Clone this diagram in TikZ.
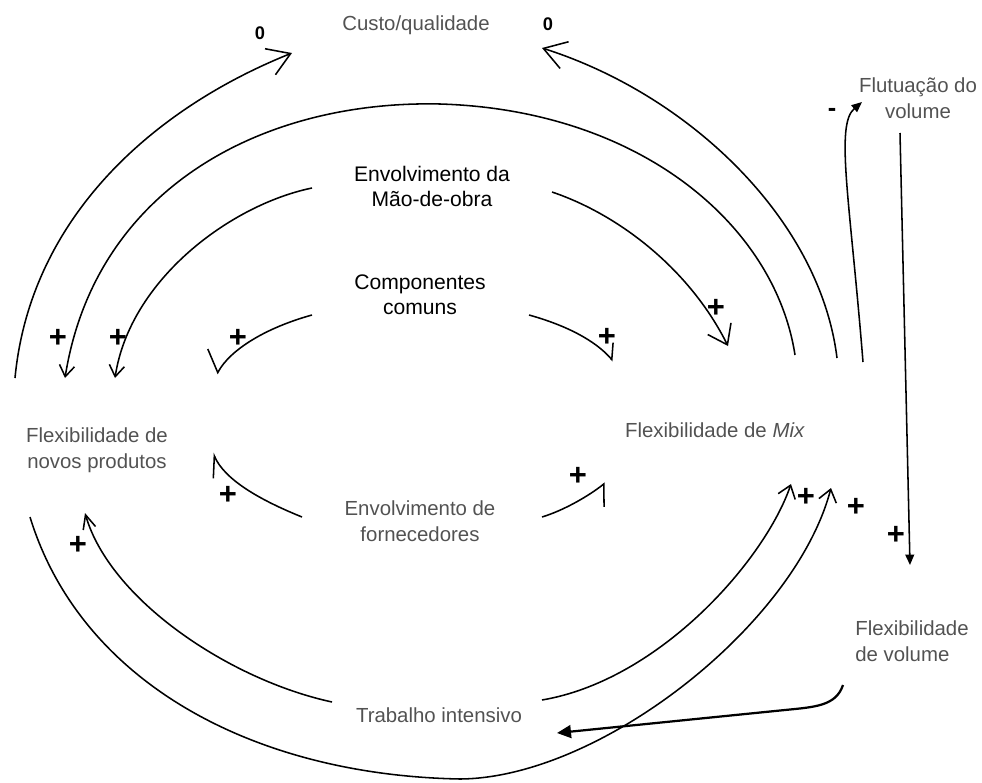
\documentclass[tikz,border=0pt]{standalone}
\usepackage{fontspec}
\setmainfont{Liberation Sans}
\usepackage{xcolor}
\usetikzlibrary{arrows.meta}
\definecolor{fmgray}{RGB}{82,82,82}
\tikzset{
  factor/.style={align=center, font=\fontsize{14.5}{18.4}\selectfont, text=fmgray, inner sep=1pt},
  keyfactor/.style={align=center, font=\fontsize{15}{17.8}\selectfont, text=black, inner sep=1pt},
  sign/.style={font=\fontsize{22}{22}\selectfont\bfseries, inner sep=0pt},
  zero/.style={font=\fontsize{13}{13}\selectfont\bfseries, inner sep=0pt},
  link/.style={line width=1.1pt},
  bigbarb/.style={link, -{Straight Barb[length=5.5mm, width=7mm]}},
  midbarb/.style={link, -{Straight Barb[length=4.5mm, width=6.5mm]}},
  smallbarb/.style={link, -{Straight Barb[length=3mm, width=4.5mm]}},
  halfleft/.style={link, -{Straight Barb[left, length=#1]}},
  halfright/.style={link, -{Straight Barb[right, length=#1]}},
  solidarrow/.style={link, -{Triangle[length=2.6mm, width=2.2mm]}},
}

\begin{document}
\begin{tikzpicture}[x=0.025cm, y=-0.025cm]
  \useasboundingbox (0,0) rectangle (982,783);
  % factors
  \node[factor] (cq) at (416,25) {Custo/qualidade};
  \node[keyfactor] (mo) at (432,186) {Envolvimento da\\Mão-de-obra};
  \node[keyfactor] (cc) at (420,295) {Componentes\\comuns};
  \node[factor] (np) at (97,450) {Flexibilidade de\\novos produtos};
  \node[factor] (ef) at (420,521) {Envolvimento de\\fornecedores};
  \node[factor] (mx) at (715,430) {Flexibilidade de \textit{Mix}};
  \node[factor] (fl) at (918,98) {Flutuação do\\volume};
  \node[factor, align=left] (fv) at (912,641) {Flexibilidade\\de volume};
  \node[factor] (ti) at (439,715) {Trabalho intensivo};

  % link ends
  \foreach \name/\x/\y in {np1/15/378, cq1/292/53, mx1/795/355, np2/65/378,
                           mo1/312/188, np3/115/378, cc1/312/315, np4/217/374,
                           mo2/552/192, mx2/728/346, cc2/529/315, mx3/613/361,
                           mx4/837/358, cq2/542/48, mx5/863/362, fl1/862/102,
                           fl2/900/133, fv1/910/565, fv2/843/685, ti1/557/733,
                           ti2/542/700, mx6/791/484, np5/30/517, mx7/831/488,
                           ti3/332/702, np6/85/513, ef1/302/517, np7/213/453,
                           ef2/542/517, mx8/605/483}
    \coordinate (\name) at (\x,\y);

  % upper loops
  \draw[bigbarb] (np1) .. controls (30,220) and (150,110) .. (cq1);
  \draw[bigbarb] (mx4) .. controls (820,220) and (690,95) .. (cq2);
  \draw[link, -{Straight Barb[length=2.8mm, width=3.8mm]}] (mx1) .. controls (775,225) and (640,110) .. (440,104)
    .. controls (260,100) and (95,190) .. (np2);
  \draw[link, -{Straight Barb[length=2.8mm, width=3.8mm]}] (mo1) .. controls (230,205) and (130,280) .. (np3);
  \draw[halfright={4mm, width=10mm}] (cc1) .. controls (265,328) and (230,350) .. (np4);
  \draw[midbarb] (mo2) .. controls (620,215) and (690,270) .. (mx2);
  \draw[halfleft={3mm, width=6mm}] (cc2) .. controls (565,325) and (595,340) .. (mx3);

  % volume
  \draw[solidarrow] (mx5) .. controls (850,200) and (835,125) .. (fl1);
  \draw[solidarrow] (fl2) -- (fv1);
  \draw[line width=1.6pt, -{Triangle[length=3.5mm, width=3.2mm]}] (fv2) .. controls (836,706) and (815,707) .. (785,710) -- (ti1);

  % lower loops
  \draw[smallbarb] (ti2) .. controls (660,680) and (765,560) .. (mx6);
  \draw[smallbarb] (np5) .. controls (80,680) and (250,775) .. (460,779)
    .. controls (600,778) and (795,625) .. (mx7);
  \draw[link, -{Straight Barb[length=3.5mm, width=3.2mm]}] (ti3) .. controls (230,680) and (110,600) .. (np6);
  \draw[halfleft={5mm, width=5mm}] (ef1) .. controls (260,500) and (225,480) .. (np7);
  \draw[halfright={3.5mm, width=9mm}] (ef2) .. controls (565,510) and (590,495) .. (mx8);

  % polarities
  \foreach \x/\y [count=\i] in {58/338, 118/338, 238/338, 716/308, 607/337, 578/476,
                                806/497, 856/507, 896/535, 78/545, 228/495}
    \node[sign] (plus\i) at (\x,\y) {+};
  \node[sign, font=\fontsize{18}{18}\selectfont\bfseries] (minus) at (832,112) {-};
  \node[zero] (zero1) at (260,33) {0};
  \node[zero] (zero2) at (548,24) {0};
\end{tikzpicture}
\end{document}
